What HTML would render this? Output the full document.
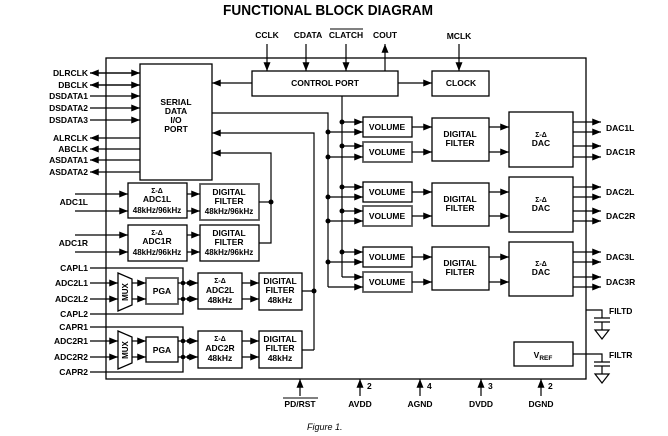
<!DOCTYPE html>
<html><head><meta charset="utf-8"><style>
html,body{margin:0;padding:0;background:#fff;}
svg{display:block;font-family:"Liberation Sans",Arial,sans-serif;font-weight:bold;}
</style></head><body>
<svg width="668" height="436" viewBox="0 0 668 436" xmlns="http://www.w3.org/2000/svg">
<defs>
<marker id="a" viewBox="0 0 10 8" refX="10" refY="4" markerWidth="9" markerHeight="7" markerUnits="userSpaceOnUse" orient="auto"><path d="M0,0 L10,4 L0,8 z" fill="#000"/></marker>
</defs>
<g fill="none" stroke="#000" stroke-width="1.3">
<rect x="106" y="58" width="480" height="321"/>
<rect x="140" y="64" width="72" height="116"/>
<rect x="252" y="71" width="146" height="25"/>
<rect x="432" y="71" width="57" height="25"/>
<rect x="363" y="117" width="49" height="20"/><rect x="363" y="142" width="49" height="20" stroke="#555" stroke-width="1.8"/>
<rect x="363" y="182" width="49" height="20"/><rect x="363" y="206" width="49" height="20" stroke="#555" stroke-width="1.8"/>
<rect x="363" y="247" width="49" height="20"/><rect x="363" y="272" width="49" height="20" stroke="#555" stroke-width="1.8"/>
<rect x="432" y="118" width="57" height="43"/><rect x="432" y="183" width="57" height="43"/><rect x="432" y="247" width="57" height="43"/>
<rect x="509" y="112" width="64" height="55"/><rect x="509" y="177" width="64" height="55"/><rect x="509" y="242" width="64" height="54"/>
<rect x="514" y="342" width="59" height="24"/>
<rect x="128" y="183" width="59" height="35"/><rect x="200" y="184" width="59" height="36" stroke="#555" stroke-width="1.8"/>
<rect x="128" y="225" width="59" height="36"/><rect x="200" y="225" width="59" height="36"/>
<path d="M118,273 L132,279 L132,305 L118,311 Z"/><rect x="146" y="278" width="32" height="26" stroke="#555" stroke-width="1.8"/>
<rect x="198" y="273" width="44" height="36"/><rect x="259" y="273" width="43" height="37"/>
<path d="M118,331 L132,337 L132,363 L118,369 Z"/><rect x="146" y="337" width="32" height="25"/>
<rect x="198" y="331" width="44" height="37"/><rect x="259" y="331" width="43" height="37"/>
<path d="M90,268 H183 V314 H90 M90,327 H183 V372 H90"/>
</g>
<g stroke="#000" stroke-width="1.2" fill="none">
<path d="M267,44 V71" marker-end="url(#a)"/><path d="M306,44 V71" marker-end="url(#a)"/>
<path d="M346,44 V71" marker-end="url(#a)"/><path d="M385,71 V44" marker-end="url(#a)"/>
<path d="M459,44 V71" marker-end="url(#a)"/>
<path d="M398,83 H432" marker-end="url(#a)"/>
<path d="M252,83 H212" marker-end="url(#a)"/>
<path d="M140,73 H90" marker-end="url(#a)"/><path d="M90,73 H140" marker-end="url(#a)"/>
<path d="M140,85 H90" marker-end="url(#a)"/><path d="M90,85 H140" marker-end="url(#a)"/>
<path d="M90,96 H140" marker-end="url(#a)"/><path d="M90,108 H140" marker-end="url(#a)"/><path d="M90,120 H140" marker-end="url(#a)"/>
<path d="M140,138 H90" marker-end="url(#a)"/><path d="M140,149 H90" marker-end="url(#a)"/>
<path d="M140,160 H90" marker-end="url(#a)"/><path d="M140,172 H90" marker-end="url(#a)"/>
<path d="M342,96 V277"/>
<path d="M212,113 H328 V287"/>
<path d="M314,350 V133 H212" marker-end="url(#a)"/>
<path d="M259,243 H271 V153 H212" marker-end="url(#a)"/>
<path d="M259,202 H271"/>
<path d="M302,291 H314 M302,350 H314"/>
<path d="M342,122 H363" marker-end="url(#a)"/><path d="M328,132 H363" marker-end="url(#a)"/>
<path d="M342,146 H363" marker-end="url(#a)"/><path d="M328,157 H363" marker-end="url(#a)"/>
<path d="M342,187 H363" marker-end="url(#a)"/><path d="M328,197 H363" marker-end="url(#a)"/>
<path d="M342,211 H363" marker-end="url(#a)"/><path d="M328,221 H363" marker-end="url(#a)"/>
<path d="M342,252 H363" marker-end="url(#a)"/><path d="M328,262 H363" marker-end="url(#a)"/>
<path d="M342,277 H363" marker-end="url(#a)"/><path d="M328,287 H363" marker-end="url(#a)"/>
<path d="M412,127 H432" marker-end="url(#a)"/><path d="M412,152 H432" marker-end="url(#a)"/>
<path d="M412,192 H432" marker-end="url(#a)"/><path d="M412,216 H432" marker-end="url(#a)"/>
<path d="M412,257 H432" marker-end="url(#a)"/><path d="M412,282 H432" marker-end="url(#a)"/>
<path d="M489,127 H509" marker-end="url(#a)"/><path d="M489,152 H509" marker-end="url(#a)"/>
<path d="M489,192 H509" marker-end="url(#a)"/><path d="M489,216 H509" marker-end="url(#a)"/>
<path d="M489,257 H509" marker-end="url(#a)"/><path d="M489,282 H509" marker-end="url(#a)"/>
<path d="M573,122 H601" marker-end="url(#a)"/><path d="M573,132 H601" marker-end="url(#a)"/>
<path d="M573,146 H601" marker-end="url(#a)"/><path d="M573,157 H601" marker-end="url(#a)"/>
<path d="M573,187 H601" marker-end="url(#a)"/><path d="M573,197 H601" marker-end="url(#a)"/>
<path d="M573,211 H601" marker-end="url(#a)"/><path d="M573,221 H601" marker-end="url(#a)"/>
<path d="M573,252 H601" marker-end="url(#a)"/><path d="M573,262 H601" marker-end="url(#a)"/>
<path d="M573,277 H601" marker-end="url(#a)"/><path d="M573,287 H601" marker-end="url(#a)"/>
<path d="M75,194 H128" marker-end="url(#a)"/><path d="M75,211 H128" marker-end="url(#a)"/>
<path d="M187,194 H200" marker-end="url(#a)"/><path d="M187,211 H200" marker-end="url(#a)"/>
<path d="M75,235 H128" marker-end="url(#a)"/><path d="M75,252 H128" marker-end="url(#a)"/>
<path d="M187,235 H200" marker-end="url(#a)"/><path d="M187,252 H200" marker-end="url(#a)"/>
<path d="M90,283 H118" marker-end="url(#a)"/><path d="M90,299 H118" marker-end="url(#a)"/>
<path d="M132,283 H146" marker-end="url(#a)"/><path d="M132,299 H146" marker-end="url(#a)"/>
<path d="M178,283 H198" marker-end="url(#a)"/><path d="M178,299 H198" marker-end="url(#a)"/>
<path d="M242,283 H259" marker-end="url(#a)"/><path d="M242,299 H259" marker-end="url(#a)"/>
<path d="M90,341 H118" marker-end="url(#a)"/><path d="M90,357 H118" marker-end="url(#a)"/>
<path d="M132,341 H146" marker-end="url(#a)"/><path d="M132,357 H146" marker-end="url(#a)"/>
<path d="M178,341 H198" marker-end="url(#a)"/><path d="M178,357 H198" marker-end="url(#a)"/>
<path d="M242,341 H259" marker-end="url(#a)"/><path d="M242,357 H259" marker-end="url(#a)"/>
<path d="M300,396 V379" marker-end="url(#a)"/><path d="M360,396 V379" marker-end="url(#a)"/>
<path d="M420,396 V379" marker-end="url(#a)"/><path d="M481,396 V379" marker-end="url(#a)"/>
<path d="M541,396 V379" marker-end="url(#a)"/>
<path d="M586,310 H602 V318 M594,318 H610 M594,322 H610 M602,322 V330 M595,330 H609 L602,339 Z"/>
<path d="M573,354 H602 V362 M594,362 H610 M594,366 H610 M602,366 V374 M595,374 H609 L602,383 Z"/>
</g>
<g fill="#000">
<circle cx="342" cy="122" r="2.5"/><circle cx="342" cy="146" r="2.5"/><circle cx="342" cy="187" r="2.5"/><circle cx="342" cy="211" r="2.5"/><circle cx="342" cy="252" r="2.5"/>
<circle cx="328" cy="132" r="2.5"/><circle cx="328" cy="157" r="2.5"/><circle cx="328" cy="197" r="2.5"/><circle cx="328" cy="221" r="2.5"/><circle cx="328" cy="262" r="2.5"/>
<circle cx="271" cy="202" r="2.5"/><circle cx="314" cy="291" r="2.5"/>
<circle cx="183" cy="283" r="2.3"/><circle cx="189" cy="283" r="2.3"/><circle cx="183" cy="299" r="2.3"/><circle cx="189" cy="299" r="2.3"/>
<circle cx="183" cy="341" r="2.3"/><circle cx="189" cy="341" r="2.3"/><circle cx="183" cy="357" r="2.3"/><circle cx="189" cy="357" r="2.3"/>
</g>
<g font-size="8.5" fill="#000">
<text x="223" y="15" font-size="15" textLength="210" lengthAdjust="spacingAndGlyphs">FUNCTIONAL BLOCK DIAGRAM</text>
<g text-anchor="middle">
<text x="267" y="38">CCLK</text><text x="308" y="38">CDATA</text><text x="346" y="38">CLATCH</text><text x="385" y="38">COUT</text><text x="459" y="39">MCLK</text>
<text x="325" y="86">CONTROL PORT</text><text x="461" y="86">CLOCK</text>
<text x="176" y="105">SERIAL</text><text x="176" y="114">DATA</text><text x="176" y="123">I/O</text><text x="176" y="132">PORT</text>
<text x="387" y="130">VOLUME</text><text x="387" y="155">VOLUME</text><text x="387" y="195">VOLUME</text><text x="387" y="219">VOLUME</text><text x="387" y="260">VOLUME</text><text x="387" y="285">VOLUME</text>
<text x="460" y="137">DIGITAL</text><text x="460" y="146">FILTER</text>
<text x="460" y="202">DIGITAL</text><text x="460" y="211">FILTER</text>
<text x="460" y="266">DIGITAL</text><text x="460" y="275">FILTER</text>
<text x="541" y="137" font-size="7">Σ-Δ</text><text x="541" y="146">DAC</text>
<text x="541" y="202" font-size="7">Σ-Δ</text><text x="541" y="211">DAC</text>
<text x="541" y="266" font-size="7">Σ-Δ</text><text x="541" y="275">DAC</text>
<text x="543" y="358">V<tspan font-size="6.5" dy="2">REF</tspan></text>
<text x="157" y="193" font-size="7">Σ-Δ</text><text x="157" y="202">ADC1L</text><text x="157" y="213" font-size="8">48kHz/96kHz</text>
<text x="229" y="195">DIGITAL</text><text x="229" y="204">FILTER</text><text x="229" y="214" font-size="8">48kHz/96kHz</text>
<text x="157" y="235" font-size="7">Σ-Δ</text><text x="157" y="244">ADC1R</text><text x="157" y="255" font-size="8">48kHz/96kHz</text>
<text x="229" y="236">DIGITAL</text><text x="229" y="245">FILTER</text><text x="229" y="255" font-size="8">48kHz/96kHz</text>
<text x="162" y="294">PGA</text><text x="162" y="353">PGA</text>
<text x="220" y="283" font-size="7">Σ-Δ</text><text x="220" y="293">ADC2L</text><text x="220" y="303">48kHz</text>
<text x="220" y="341" font-size="7">Σ-Δ</text><text x="220" y="351">ADC2R</text><text x="220" y="361">48kHz</text>
<text x="280" y="284">DIGITAL</text><text x="280" y="293">FILTER</text><text x="280" y="303">48kHz</text>
<text x="280" y="342">DIGITAL</text><text x="280" y="351">FILTER</text><text x="280" y="361">48kHz</text>
<text x="300" y="407">PD/RST</text><text x="360" y="407">AVDD</text><text x="420" y="407">AGND</text><text x="481" y="407">DVDD</text><text x="541" y="407">DGND</text>
</g>
<text transform="translate(128,292) rotate(-90)" text-anchor="middle" font-size="8">MUX</text>
<text transform="translate(128,350) rotate(-90)" text-anchor="middle" font-size="8">MUX</text>
<g text-anchor="end">
<text x="88" y="76">DLRCLK</text><text x="88" y="88">DBCLK</text><text x="88" y="99">DSDATA1</text><text x="88" y="111">DSDATA2</text><text x="88" y="123">DSDATA3</text>
<text x="88" y="141">ALRCLK</text><text x="88" y="152">ABCLK</text><text x="88" y="163">ASDATA1</text><text x="88" y="175">ASDATA2</text>
<text x="88" y="205">ADC1L</text><text x="88" y="246">ADC1R</text>
<text x="88" y="271">CAPL1</text><text x="88" y="286">ADC2L1</text><text x="88" y="302">ADC2L2</text><text x="88" y="317">CAPL2</text>
<text x="88" y="330">CAPR1</text><text x="88" y="344">ADC2R1</text><text x="88" y="360">ADC2R2</text><text x="88" y="375">CAPR2</text>
</g>
<text x="606" y="131">DAC1L</text><text x="606" y="155">DAC1R</text>
<text x="606" y="195">DAC2L</text><text x="606" y="219">DAC2R</text>
<text x="606" y="260">DAC3L</text><text x="606" y="285">DAC3R</text>
<text x="609" y="314">FILTD</text><text x="609" y="358">FILTR</text>
<text x="367" y="389">2</text><text x="427" y="389">4</text><text x="488" y="389">3</text><text x="548" y="389">2</text>
<text x="307" y="430" font-weight="normal" font-style="italic" font-size="9">Figure 1.</text>
</g>
<g stroke="#000" stroke-width="0.9">
<line x1="330" y1="29" x2="363" y2="29"/><line x1="283" y1="398" x2="318" y2="398"/>
</g>
</svg>
</body></html>
